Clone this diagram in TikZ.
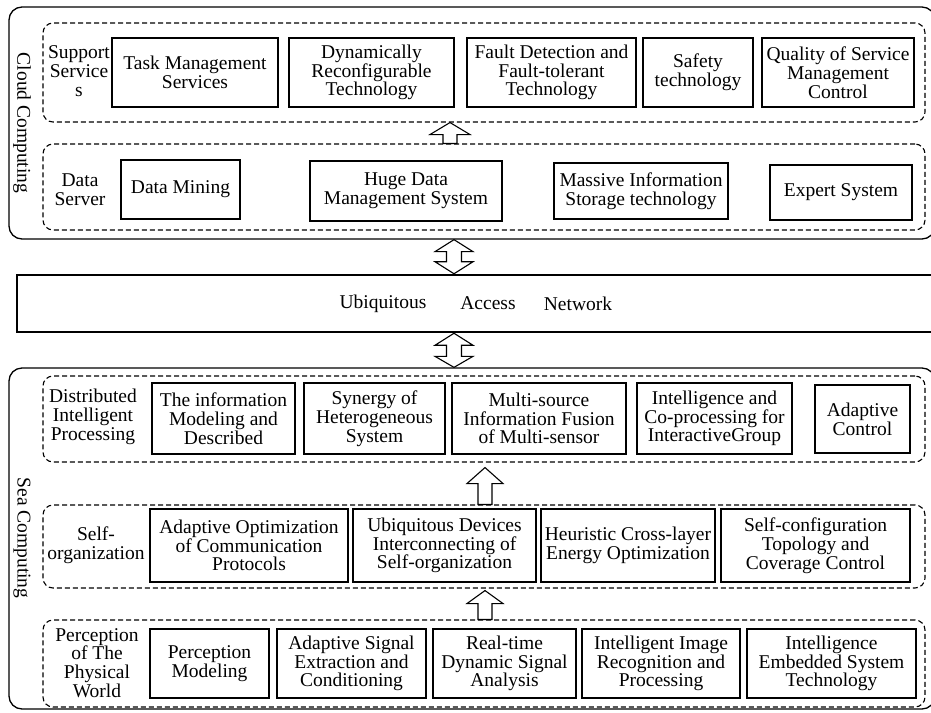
\documentclass[tikz,border=0pt]{standalone}
\usepackage{fontspec}
\setmainfont{Liberation Serif}
\usetikzlibrary{calc}
\begin{document}
\begin{tikzpicture}[x=1pt,y=-1pt,
  every node/.style={font=\fontsize{19.5}{18.8}\selectfont},
  box/.style={draw, line width=1.3pt, align=center, inner sep=0pt},
  layer/.style={draw, dashed, dash pattern=on 5pt off 3pt, line width=1.1pt, rounded corners=10pt, inner sep=0pt, minimum width=882pt},
  outer/.style={draw, line width=1.3pt, rounded corners=13pt},
  lbl/.style={align=center, inner sep=0pt},
  blk/.style={draw, line width=1.1pt, fill=white, line join=miter}
]
\useasboundingbox (0,0) rectangle (931,712);
\fill[white] (0,0) rectangle (931,712);

% outer containers
\node[outer, minimum width=926pt, minimum height=232pt, inner sep=0pt] (cloud) at (472,123) {};
\node[outer, minimum width=926pt, minimum height=341pt, inner sep=0pt] (sea) at (472,538.5) {};
\node[rotate=-90, inner sep=0pt] (cloudlbl) at (22,123) {Cloud Computing};
\node[rotate=-90, inner sep=0pt] (sealbl) at (22,538) {Sea Computing};

% Support services layer
\node[layer, minimum height=99pt] (sup) at (484,72.5) {};
\node[lbl] (suplbl) at (79,71) {Support\\Service\\s};
\node[box, minimum width=166pt, minimum height=69pt] (tms) at (195,72.5) {Task Management\\Services};
\node[box, minimum width=165pt, minimum height=69pt] (dyn) at (371.5,72.5) {Dynamically\\Reconfigurable\\Technology};
\node[box, minimum width=169pt, minimum height=69pt] (fdt) at (551.5,72.5) {Fault Detection and\\Fault-tolerant\\Technology};
\node[box, minimum width=110pt, minimum height=69pt] (saf) at (698,72.5) {Safety\\technology};
\node[box, minimum width=152pt, minimum height=69pt] (qos) at (838,72.5) {Quality of Service\\Management\\Control};

% Data server layer
\node[layer, minimum height=86pt] (ds) at (484,187) {};
\node[lbl] (dslbl) at (80,190) {Data\\Server};
\node[box, minimum width=119pt, minimum height=59pt] (dm) at (180.5,189.5) {Data Mining};
\node[box, minimum width=192pt, minimum height=60pt] (huge) at (406,191) {Huge Data\\Management System};
\node[box, minimum width=174pt, minimum height=56pt] (mis) at (641,191) {Massive Information\\Storage technology};
\node[box, minimum width=142pt, minimum height=55pt] (exp) at (841,192.5) {Expert System};

% Ubiquitous access network
\node[draw, line width=2.5pt, minimum width=930pt, minimum height=57pt, inner sep=0pt] (uan) at (482,303.5) {};
\node[inner sep=0pt] (uan1) at (383,303.5) {Ubiquitous};
\node[inner sep=0pt] (uan2) at (488,303.5) {Access};
\node[inner sep=0pt] (uan3) at (578,303.5) {Network};

% Distributed intelligent processing layer
\node[layer, minimum height=86pt] (dip) at (484,419) {};
\node[lbl] (diplbl) at (93,417) {Distributed\\Intelligent\\Processing};
\node[box, minimum width=143pt, minimum height=71pt] (imd) at (223.5,418.5) {The information\\Modeling and\\Described};
\node[box, minimum width=141pt, minimum height=71pt] (shs) at (374.5,418.5) {Synergy of\\Heterogeneous\\System};
\node[box, minimum width=174pt, minimum height=71pt] (msf) at (539,418.5) {Multi-source\\Information Fusion\\of Multi-sensor};
\node[box, minimum width=155pt, minimum height=71pt] (icp) at (714.5,418.5) {Intelligence and\\Co-processing for\\InteractiveGroup};
\node[box, minimum width=95pt, minimum height=68pt] (adc) at (862.5,419) {Adaptive\\Control};

% Self-organization layer
\node[layer, minimum height=83pt] (sor) at (484,546.5) {};
\node[lbl] (sorlbl) at (96,545) {Self-\\organization};
\node[box, minimum width=198pt, minimum height=73pt] (aoc) at (249,545.5) {Adaptive Optimization\\of Communication\\Protocols};
\node[box, minimum width=183pt, minimum height=73pt] (udi) at (444.5,545.5) {Ubiquitous Devices\\Interconnecting of\\Self-organization};
\node[box, minimum width=174pt, minimum height=73pt] (hce) at (628,545.5) {Heuristic Cross-layer\\Energy Optimization};
\node[box, minimum width=189pt, minimum height=73pt] (stc) at (815.5,545.5) {Self-configuration\\Topology and\\Coverage Control};

% Perception layer
\node[layer, minimum height=87pt] (per) at (484,663.5) {};
\node[lbl] (perlbl) at (97,663) {Perception\\of The\\Physical\\World};
\node[box, minimum width=119pt, minimum height=69pt] (pmo) at (209.5,663.5) {Perception\\Modeling};
\node[box, minimum width=149pt, minimum height=69pt] (ase) at (351.5,663.5) {Adaptive Signal\\Extraction and\\Conditioning};
\node[box, minimum width=143pt, minimum height=69pt] (rtd) at (504.5,663.5) {Real-time\\Dynamic Signal\\Analysis};
\node[box, minimum width=158pt, minimum height=69pt] (iir) at (661,663.5) {Intelligent Image\\Recognition and\\Processing};
\node[box, minimum width=169pt, minimum height=69pt] (ies) at (831.5,663.5) {Intelligence\\Embedded System\\Technology};

% block arrows (single, up)
\coordinate (t1) at (sup.south -| 450,0);
\coordinate (b1) at (ds.north -| 450,0);
\draw[blk] (t1) -- ($(t1)+(20,12)$) -- ($(t1)+(7,12)$) -- ($(b1)+(7,0)$) -- ($(b1)+(-7,0)$) -- ($(t1)+(-7,12)$) -- ($(t1)+(-20,12)$) -- cycle;

\coordinate (t2) at ($(dip.south -| 485,0)+(0,5)$);
\coordinate (b2) at (sor.north -| 485,0);
\draw[blk] (t2) -- ($(t2)+(18,16)$) -- ($(t2)+(7,16)$) -- ($(b2)+(7,0)$) -- ($(b2)+(-7,0)$) -- ($(t2)+(-7,16)$) -- ($(t2)+(-18,16)$) -- cycle;

\coordinate (t3) at ($(sor.south -| 485,0)+(0,2)$);
\coordinate (b3) at (per.north -| 485,0);
\draw[blk] (t3) -- ($(t3)+(18,13)$) -- ($(t3)+(7,13)$) -- ($(b3)+(7,0)$) -- ($(b3)+(-7,0)$) -- ($(t3)+(-7,13)$) -- ($(t3)+(-18,13)$) -- cycle;

% double arrows
\coordinate (t4) at (cloud.south -| 454,0);
\coordinate (b4) at (uan.north -| 454,0);
\draw[blk] (t4) -- ($(t4)+(19,12)$) -- ($(t4)+(7.5,12)$) -- ($(b4)+(7.5,-12)$) -- ($(b4)+(19,-12)$) -- (b4) -- ($(b4)+(-19,-12)$) -- ($(b4)+(-7.5,-12)$) -- ($(t4)+(-7.5,12)$) -- ($(t4)+(-19,12)$) -- cycle;

\coordinate (t5) at (uan.south -| 454,0);
\coordinate (b5) at (sea.north -| 454,0);
\draw[blk] (t5) -- ($(t5)+(19,12)$) -- ($(t5)+(7.5,12)$) -- ($(b5)+(7.5,-11)$) -- ($(b5)+(19,-11)$) -- (b5) -- ($(b5)+(-19,-11)$) -- ($(b5)+(-7.5,-11)$) -- ($(t5)+(-7.5,12)$) -- ($(t5)+(-19,12)$) -- cycle;
\end{tikzpicture}
\end{document}
